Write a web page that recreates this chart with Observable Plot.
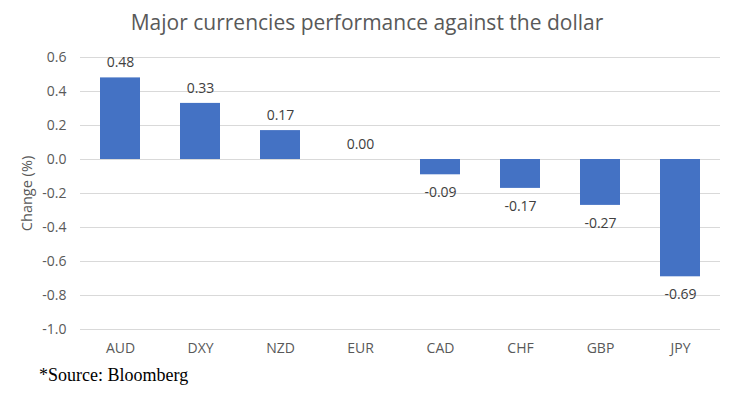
<!DOCTYPE html>
<html>
<head>
<meta charset="utf-8">
<script src="https://cdn.jsdelivr.net/npm/d3@7"></script>
<script src="https://cdn.jsdelivr.net/npm/@observablehq/plot@0.6"></script>
<style>
  body { margin: 0; background: #fff; width: 734px; height: 394px; overflow: hidden; }
  #title { height: 40px; line-height: 44px; text-align: center; font-family: "Open Sans", sans-serif; font-size: 21px; color: #595959; }
  #caption { font-family: "Liberation Serif", serif; font-size: 18px; color: #000; margin: 5px 0 0 39px; }
</style>
</head>
<body>
<div id="title">Major currencies performance against the dollar</div>
<div id="chart"></div>
<div id="caption">*Source: Bloomberg</div>
<script>
const currencies = ["AUD", "DXY", "NZD", "EUR", "CAD", "CHF", "GBP", "JPY"];
const changes = [0.48, 0.33, 0.17, 0.00, -0.09, -0.17, -0.27, -0.69];
const yTicks = [0.6, 0.4, 0.2, 0.0, -0.2, -0.4, -0.6, -0.8, -1.0];

const data = currencies.map((c, i) => ({currency: c, change: changes[i]}));

const chart = Plot.plot({
  width: 734,
  height: 320,
  marginLeft: 80,
  marginRight: 14,
  marginTop: 17,
  marginBottom: 31,
  style: {fontFamily: "Open Sans, sans-serif", fontSize: "14px", color: "#595959", background: "#fff"},
  x: {domain: currencies, paddingInner: 0.5, paddingOuter: 0.25, label: null},
  y: {domain: [-1.0, 0.6], label: null},
  marks: [
    Plot.gridY(yTicks, {stroke: "#d9d9d9", strokeOpacity: 1, strokeWidth: 1}),
    Plot.barY(data, {x: "currency", y: "change", fill: "#4472C4"}),
    Plot.text(data.filter(d => d.change >= 0), {x: "currency", y: "change", text: d => d.change.toFixed(2), dy: -15, fill: "#404040", fontSize: 14}),
    Plot.text(data.filter(d => d.change < 0), {x: "currency", y: "change", text: d => d.change.toFixed(2), dy: 18, fill: "#404040", fontSize: 14}),
    Plot.axisY({ticks: yTicks, tickSize: 0, tickPadding: 14, tickFormat: d => d.toFixed(1), fill: "#595959", fontSize: 14, label: null}),
    Plot.axisX({tickSize: 0, tickPadding: 14, fill: "#595959", fontSize: 14, label: null}),
    Plot.text(["Change (%)"], {frameAnchor: "left", textAnchor: "middle", dx: -53, rotate: -90, fill: "#595959", fontSize: 14.5})
  ]
});
document.getElementById("chart").appendChild(chart);
</script>
</body>
</html>
